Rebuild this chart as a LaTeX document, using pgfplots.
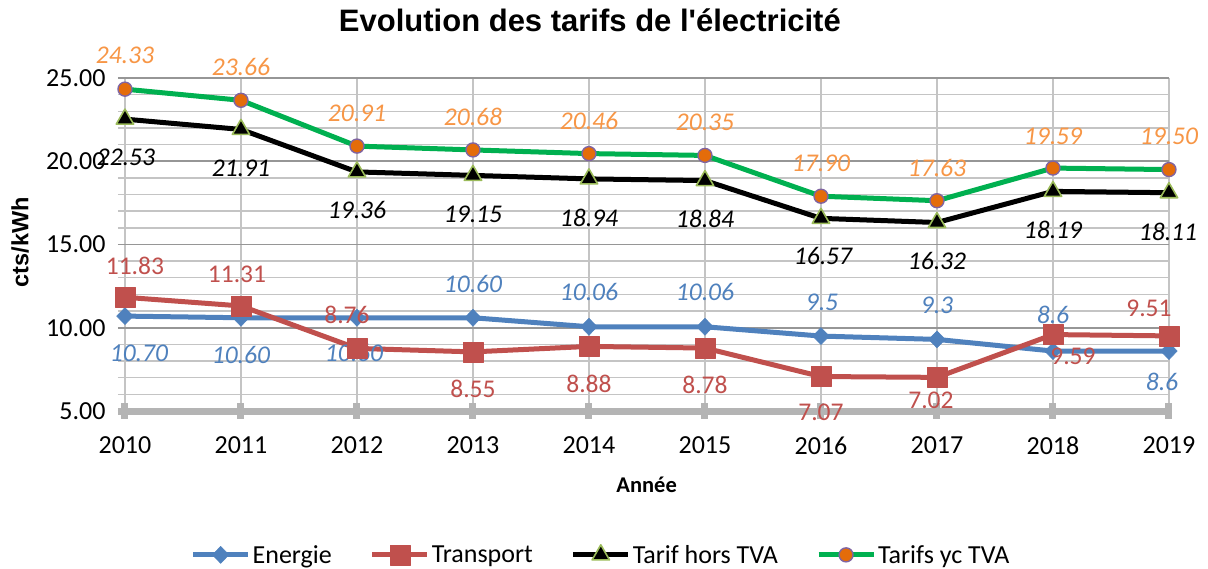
\documentclass[border=0pt]{standalone}
\usepackage{fontspec}
\setmainfont{Carlito}
\newfontfamily\arialfont{Liberation Sans}
\usepackage{pgfplots}
\pgfplotsset{compat=1.18}
\definecolor{cBlue}{HTML}{4F81BD}
\definecolor{cRed}{HTML}{C0504D}
\definecolor{cGreen}{HTML}{00B050}
\definecolor{cOrange}{HTML}{E46C0A}
\definecolor{cOrangeLbl}{HTML}{F79646}
\definecolor{cPurple}{HTML}{8064A2}
\definecolor{cOlive}{HTML}{9BBB59}
\definecolor{gridMajor}{HTML}{969696}
\definecolor{gridMinor}{HTML}{C4C4C4}
\definecolor{axisGray}{HTML}{B4B4B4}
\pgfplotsset{
  lbls/.style 2 args={
    visualization depends on={\thisrow{dx} \as \dx},
    visualization depends on={\thisrow{dy} \as \dy},
    visualization depends on={value \thisrow{lbl} \as \lbl},
    nodes near coords={\lbl},
    every node near coord/.append style={anchor=center, xshift=\dx pt, yshift=\dy pt, inner sep=0pt, font=\fontsize{25.5}{30}\selectfont#1, text=#2},
  },
}
\begin{document}
\begin{tikzpicture}
\useasboundingbox (0,0) rectangle (1208pt,568pt);
\begin{axis}[
  at={(118pt,157pt)}, anchor=south west,
  scale only axis, width=1051pt, height=333pt,
  xmin=2009.94, xmax=2019, ymin=5, ymax=25,
  clip=false,
  separate axis lines,
  axis x line*=bottom, axis y line*=left,
  x axis line style={-, draw=axisGray, line width=7pt},
  y axis line style={draw=none},
  xtick={2010,2011,2012,2013,2014,2015,2016,2017,2018,2019},
  xticklabels={2010,2011,2012,2013,2014,2015,2016,2017,2018,2019},
  ytick={5,10,15,20,25},
  yticklabels={5.00,10.00,15.00,20.00,25.00},
  minor ytick={6,7,8,9,11,12,13,14,16,17,18,19,21,22,23,24},
  grid=both,
  major grid style={draw=gridMajor, line width=1.6pt},
  minor grid style={draw=gridMinor, line width=1.4pt},
  x grid style={draw=gridMinor, line width=1.6pt},
  xtick align=center,
  major tick length=15pt,
  xtick style={draw=axisGray, line width=7pt},
  ytick style={draw=none},
  minor tick length=0pt,
  tick label style={font=\fontsize{26}{30}\selectfont, text=black},
  yticklabel style={xshift=-9pt},
  xticklabel style={anchor=center, yshift=-27pt},
  ylabel={cts/kWh},
  ylabel style={at={(axis description cs:-0.0932,0.507)}, anchor=center, font=\arialfont\bfseries\fontsize{23.5}{27}\selectfont},
  xlabel={Année},
  xlabel style={at={(axis description cs:0.503,-0.222)}, anchor=center, font=\bfseries\fontsize{22.5}{26}\selectfont},
  title={Evolution des tarifs de l'électricité},
  title style={at={(axis description cs:0.449,1.123)}, anchor=base, font=\arialfont\bfseries\fontsize{31}{36}\selectfont},
  legend columns=4,
  legend style={at={(axis description cs:0.4596,-0.432)}, anchor=center, draw=none, fill=none,
    font=\fontsize{26}{30}\selectfont, inner sep=0pt,
    /tikz/every even column/.append style={column sep=36pt},
    nodes={inner sep=2pt}},
  legend image code/.code={\draw[mark repeat=2,mark phase=2] plot coordinates {(0pt,0pt)(27.5pt,0pt)(55pt,0pt)};},
]
\addplot[cBlue, line width=5pt, line join=round, mark=diamond*, mark size=8.5pt,
  mark options={solid, xscale=1.3, fill=cBlue, draw=cBlue, line width=0.5pt},
  lbls={\itshape}{cBlue}] table {
x y dx dy lbl
2010 10.70 14 -37 10.70
2011 10.60 0 -37 10.60
2012 10.60 -3 -35 10.60
2013 10.60 0 34 10.60
2014 10.06 0 35 10.06
2015 10.06 0 35 10.06
2016 9.5 1 34 9.5
2017 9.3 0 34 9.3
2018 8.6 0 36 8.6
2019 8.6 -7 -31 8.6
};
\addlegendentry{Energie}
\addplot[cRed, line width=5pt, line join=round, mark=square*, mark size=10pt,
  mark options={solid, fill=cRed, draw=cRed, line width=0.5pt},
  lbls={}{cRed}] table {
x y dx dy lbl
2010 11.83 10 31 11.83
2011 11.31 -4 32 11.31
2012 8.76 -10 34 8.76
2013 8.55 0 -37 8.55
2014 8.88 0 -37 8.88
2015 8.78 0 -37 8.78
2016 7.07 0 -36 7.07
2017 7.02 -6 -23 7.02
2018 9.59 20 -22 9.59
2019 9.51 -20 28 9.51
};
\addlegendentry{Transport}
\addplot[black, line width=5pt, line join=round, mark=triangle*, mark size=10pt,
  mark options={solid, fill=black, draw=cOlive, line width=1.6pt},
  lbls={\itshape}{black}] table {
x y dx dy lbl
2010 22.53 1 -38 22.53
2011 21.91 0 -39 21.91
2012 19.36 0 -38 19.36
2013 19.15 0 -39 19.15
2014 18.94 0 -39 18.94
2015 18.84 0 -38 18.84
2016 16.57 2 -38 16.57
2017 16.32 0 -38 16.32
2018 18.19 0 -39 18.19
2019 18.11 -1 -39 18.11
};
\addlegendentry{Tarif hors TVA}
\addplot[cGreen, line width=5pt, line join=round, mark=*, mark size=7pt,
  mark options={solid, fill=cOrange, draw=cPurple, line width=1.4pt},
  lbls={\itshape}{cOrangeLbl}] table {
x y dx dy lbl
2010 24.33 0 34 24.33
2011 23.66 0 33 23.66
2012 20.91 0 33 20.91
2013 20.68 0 33 20.68
2014 20.46 0 33 20.46
2015 20.35 0 33 20.35
2016 17.90 0 33 17.90
2017 17.63 0 33 17.63
2018 19.59 0 32 19.59
2019 19.50 0 33 19.50
};
\addlegendentry{Tarifs yc TVA}
\end{axis}
\end{tikzpicture}
\end{document}
